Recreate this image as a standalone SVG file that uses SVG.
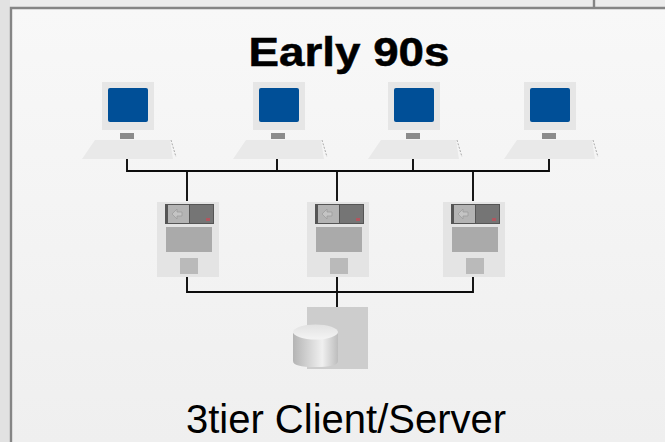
<svg xmlns="http://www.w3.org/2000/svg" width="665" height="442" viewBox="0 0 665 442">
<style>
.wire{fill:none;stroke:#0c0c0c;stroke-width:1.9}
.t{font-family:"Liberation Sans",Arial,sans-serif;fill:#000;text-anchor:middle}
.soft{filter:url(#blur)}
</style>
<defs>
<filter id="blur" x="-5%" y="-5%" width="110%" height="110%"><feGaussianBlur stdDeviation="0.65"/></filter>
<linearGradient id="panel" x1="0" y1="0" x2="0" y2="1"><stop offset="0" stop-color="#f8f8f8"/><stop offset="1" stop-color="#efefef"/></linearGradient>
<linearGradient id="cyl" x1="0" y1="0" x2="1" y2="0"><stop offset="0" stop-color="#b4b4b4"/><stop offset="0.65" stop-color="#f0f0f0"/><stop offset="1" stop-color="#bdbdbd"/></linearGradient>
<linearGradient id="cap" x1="0" y1="0" x2="0" y2="1"><stop offset="0" stop-color="#e2e2e2"/><stop offset="1" stop-color="#f4f4f4"/></linearGradient>
<g id="pc" class="soft">
<rect x="102" y="82" width="52" height="48" fill="#e6e6e6"/>
<rect x="108" y="88" width="40" height="34" rx="2" fill="#004f97"/>
<rect x="120" y="133" width="14" height="6" fill="#8c8c8c"/>
<polygon points="95,140 170,140 173,159 82,159" fill="#e9e9e9"/>
<path d="M171 140L176 157" stroke="#999" stroke-width="0.8" stroke-dasharray="2 1.5" fill="none"/>
</g>
<g id="srv" class="soft">
<rect x="157" y="202" width="62" height="75" fill="#e4e4e4"/>
<rect x="165" y="204" width="49" height="20" fill="#555"/>
<rect x="168" y="205" width="21" height="18" fill="#b4b4b4"/>
<rect x="190" y="205" width="23" height="18" fill="#757575"/>
<path d="M172 214l5-5v3h5v4h-5v3z" fill="#c4c4c4" stroke="#999" stroke-width="0.7"/>
<rect x="206" y="218" width="4" height="3" fill="#b0575f"/>
<rect x="166" y="227" width="46" height="25" fill="#aaa"/>
<rect x="180" y="258" width="18" height="16" fill="#bababa"/>
</g>
</defs>
<rect width="665" height="442" fill="#ececec"/>
<path d="M0 0H10V442H0Z" fill="#e2e2e2"/>
<rect x="11" y="8" width="654" height="434" fill="url(#panel)"/>
<path d="M11 442V8H665M594 0V8" fill="none" stroke="#858585" stroke-width="2.400"/>
<g id="connectors">
<path class="wire" d="M127 159V171H549V159M277 159V171M413 159V171M187 171V201M337 171V201M473 171V201"/>
<path class="wire" d="M187 277V292H473V277M337 277V307"/>
</g>
<g id="pc1"><use href="#pc"/></g>
<g id="pc2"><use href="#pc" x="151"/></g>
<g id="pc3"><use href="#pc" x="286"/></g>
<g id="pc4"><use href="#pc" x="422"/></g>
<g id="server1"><use href="#srv"/></g>
<g id="server2"><use href="#srv" x="150"/></g>
<g id="server3"><use href="#srv" x="286"/></g>
<g id="database" class="soft">
<rect x="307" y="307" width="61" height="62" fill="#cdcdcd"/>
<path d="M293 333V361Q293 367 315 367Q338 367 338 361V333Z" fill="url(#cyl)"/>
<ellipse cx="315.500" cy="332" rx="22.500" ry="7.500" fill="url(#cap)"/>
</g>
<text id="title" class="t" x="349" y="66" font-size="40" font-weight="bold" stroke="#000" stroke-width="0.5" textLength="201" lengthAdjust="spacingAndGlyphs">Early 90s</text>
<text id="caption" class="t" x="346" y="433" font-size="40">3tier Client/Server</text>
</svg>
